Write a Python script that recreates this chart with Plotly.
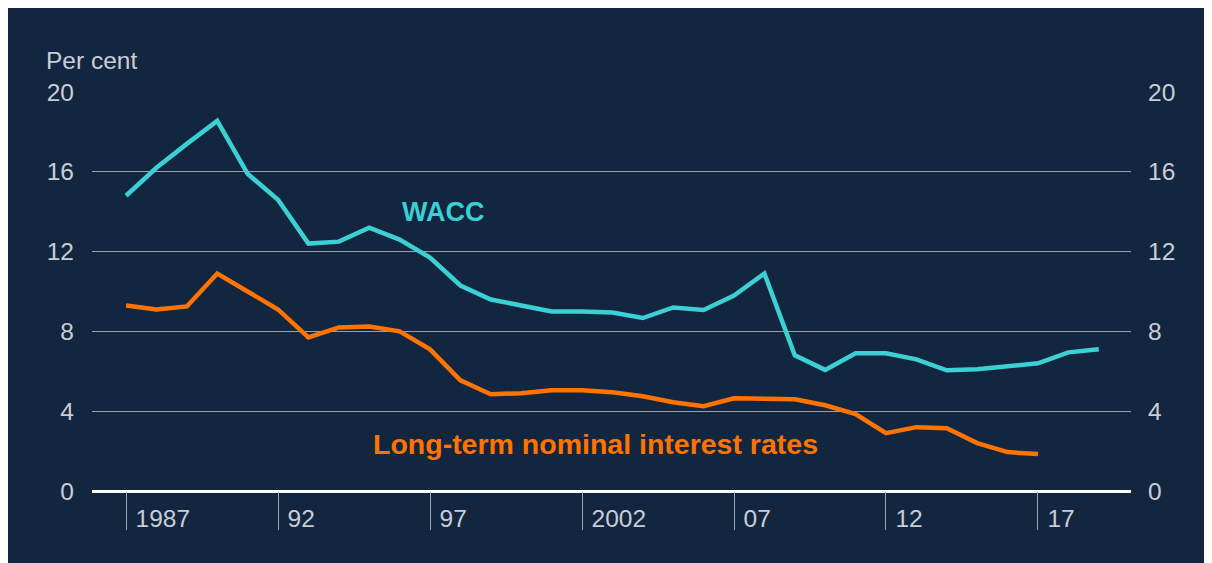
import plotly.graph_objects as go

# ── Datos ──────────────────────────────────────────────────────────────────
years_wacc = list(range(1987, 2020))
wacc = [14.8, 16.2, 17.4, 18.55, 15.9, 14.6, 12.4, 12.5, 13.2, 12.6,
        11.7, 10.3, 9.6, 9.3, 9.0, 9.0, 8.95, 8.67, 9.2, 9.07,
        9.8, 10.9, 6.8, 6.07, 6.9, 6.9, 6.6, 6.05, 6.1, 6.25,
        6.4, 6.95, 7.1]

years_rates = list(range(1987, 2018))
rates = [9.3, 9.1, 9.25, 10.9, 10.0, 9.1, 7.7, 8.2, 8.25, 8.0,
         7.1, 5.55, 4.85, 4.9, 5.05, 5.05, 4.95, 4.75, 4.45, 4.25,
         4.65, 4.6, 4.6, 4.3, 3.85, 2.9, 3.2, 3.15, 2.4, 1.95,
         1.85]

x_ticks = [1987, 1992, 1997, 2002, 2007, 2012, 2017]
x_labels = ["1987", "92", "97", "2002", "07", "12", "17"]
y_ticks = [0, 4, 8, 12, 16, 20]

# ── Paleta ─────────────────────────────────────────────────────────────────
NAVY = "#13263f"
CYAN = "#3ccfd4"
ORANGE = "#ff7400"
TEXT = "#c9ced6"
GRID = "#9aa3ad"
FONT = "Liberation Sans, Arial, sans-serif"

# la página deja 8px de margen blanco arriba/izquierda; el resto se recorta
W, H = 1212, 563
L, T = 84, 84
PW, PH = 1039, 399
R, B = W - L - PW, H - T - PH

fig = go.Figure()
fig.add_trace(go.Scatter(x=years_wacc, y=wacc, mode="lines",
                         line=dict(color=CYAN, width=4.5), name="WACC"))
fig.add_trace(go.Scatter(x=years_rates, y=rates, mode="lines",
                         line=dict(color=ORANGE, width=4.5),
                         name="Long-term nominal interest rates"))
# eje derecho (solo etiquetas)
fig.add_trace(go.Scatter(x=[years_wacc[0]], y=[wacc[0]], yaxis="y2",
                         mode="lines", showlegend=False, hoverinfo="skip",
                         line=dict(width=0)))

fig.update_layout(
    width=W, height=H,
    paper_bgcolor=NAVY,
    plot_bgcolor=NAVY,
    font=dict(family=FONT, color=TEXT, size=24.5),
    margin=dict(l=L, r=R, t=T, b=B),
    showlegend=False,
    xaxis=dict(
        range=[1985.88, 2020.06],
        tickvals=x_ticks, ticktext=x_labels,
        ticks="outside", ticklen=38, tickwidth=1, tickcolor=GRID,
        ticklabelposition="outside right",
        ticklabelshift=9, ticklabelstandoff=6,
        showgrid=False, zeroline=False, showline=False,
        tickfont=dict(color=TEXT, size=24.5),
    ),
    yaxis=dict(
        range=[0, 20], tickvals=y_ticks,
        showgrid=True, gridcolor=GRID, gridwidth=1,
        zeroline=True, zerolinecolor="white", zerolinewidth=3,
        ticks="", ticklabelstandoff=17,
        showline=False,
    ),
    yaxis2=dict(
        range=[0, 20], tickvals=y_ticks, overlaying="y", side="right",
        showgrid=False, zeroline=False, ticks="", ticklabelstandoff=16,
    ),
    annotations=[
        dict(text="Per cent", xref="paper", yref="paper",
             x=(36 - L) / PW, y=(T + PH - 52) / PH,
             xanchor="left", yanchor="middle", showarrow=False,
             font=dict(size=24.5, color=TEXT)),
        dict(text="<b>WACC</b>", xref="x", yref="y",
             x=1997.45, y=13.98, xanchor="center", yanchor="middle",
             showarrow=False, font=dict(size=27, color=CYAN)),
        dict(text="<b>Long-term nominal interest rates</b>", xref="x", yref="y",
             x=2002.43, y=2.36, xanchor="center", yanchor="middle",
             showarrow=False, font=dict(size=28.5, color=ORANGE)),
    ],
)

fig.write_html("out.html", config={"displayModeBar": False})
